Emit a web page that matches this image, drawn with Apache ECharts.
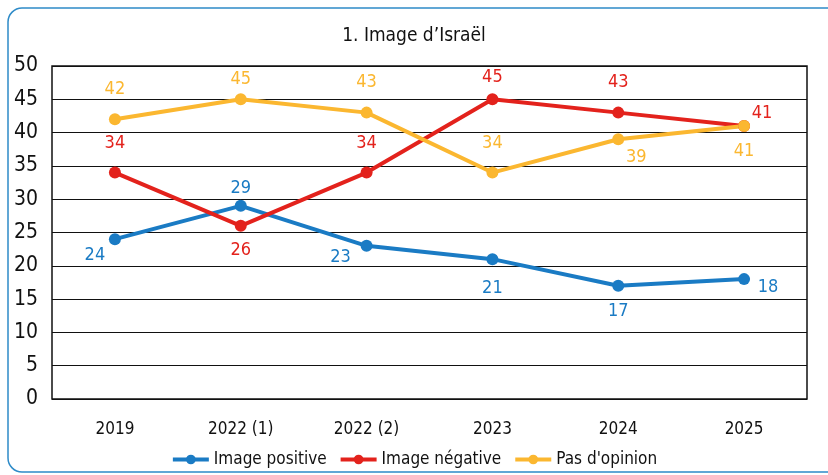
<!DOCTYPE html>
<html>
<head>
<meta charset="utf-8">
<script src="https://cdn.jsdelivr.net/npm/echarts@6/dist/echarts.min.js"></script>
<style>
  html, body { margin: 0; padding: 0; background: #fff; }
  #chart { width: 828px; height: 475px; }
</style>
</head>
<body>
<div id="chart"></div>
<script>
  var categories = ['2019', '2022 (1)', '2022 (2)', '2023', '2024', '2025'];
  var positive = [24, 29, 23, 21, 17, 18];
  var negative = [34, 26, 34, 45, 43, 41];
  var noOpinion = [42, 45, 43, 34, 39, 41];
  var yTicks = [0, 50, 5];

  var font = "'Liberation Sans Narrow', 'DejaVu Sans Condensed', sans-serif";

  // where each value label sits, relative to its point
  var posLabelOffsets = [[-20, 16], [0, -18], [-26, 12], [0, 29], [0, 26], [24, 8]];
  var negLabelOffsets = [[0, -29], [0, 24], [0, -29], [0, -22], [0, -30], [18, -13]];
  var noLabelOffsets = [[0, -30], [0, -20], [0, -30], [0, -29], [18, 18], [0, 25]];

  function withLabels(values, offsets) {
    return values.map(function (v, i) {
      return { value: v, label: { offset: offsets[i] } };
    });
  }

  function series(name, color, values, offsets) {
    return {
      name: name,
      type: 'line',
      data: withLabels(values, offsets),
      symbol: 'circle',
      symbolSize: 12,
      lineStyle: { color: color, width: 4 },
      itemStyle: { color: color },
      label: {
        show: true,
        position: 'inside',
        color: color,
        fontFamily: font,
        fontSize: 18
      }
    };
  }

  var chart = echarts.init(document.getElementById('chart'));
  chart.setOption({
    animation: false,
    graphic: [{
      type: 'rect',
      shape: { x: 8, y: 8, width: 840, height: 464, r: 14 },
      style: { fill: 'none', stroke: '#2e8bc8', lineWidth: 1.5 },
      z: -1
    }],
    title: {
      text: '1. Image d\u2019Israël',
      left: 'center',
      top: 22,
      textStyle: { fontFamily: font, fontSize: 19, fontWeight: 'normal', color: '#111' }
    },
    legend: {
      bottom: 2,
      left: 'center',
      itemWidth: 36,
      itemHeight: 12,
      itemGap: 12,
      lineStyle: { width: 4 },
      textStyle: { fontFamily: font, fontSize: 17, color: '#111' },
      data: ['Image positive', 'Image négative', "Pas d'opinion"]
    },
    grid: { left: 52, right: 21, top: 66, bottom: 76, show: true, borderColor: '#111', borderWidth: 1.5 },
    xAxis: {
      type: 'category',
      data: categories,
      boundaryGap: true,
      axisLine: { show: false },
      axisTick: { show: false },
      axisLabel: { fontFamily: font, fontSize: 17, color: '#111', margin: 22 }
    },
    yAxis: {
      type: 'value',
      min: yTicks[0],
      max: yTicks[1],
      interval: yTicks[2],
      axisLine: { show: false },
      axisTick: { show: false },
      splitLine: { lineStyle: { color: '#111', width: 1.2 } },
      axisLabel: { fontFamily: font, fontSize: 21, color: '#111', margin: 14 }
    },
    series: [
      series('Image positive', '#1a7bc4', positive, posLabelOffsets),
      series('Image négative', '#e3221c', negative, negLabelOffsets),
      series("Pas d'opinion", '#fbb730', noOpinion, noLabelOffsets)
    ]
  });
</script>
</body>
</html>
